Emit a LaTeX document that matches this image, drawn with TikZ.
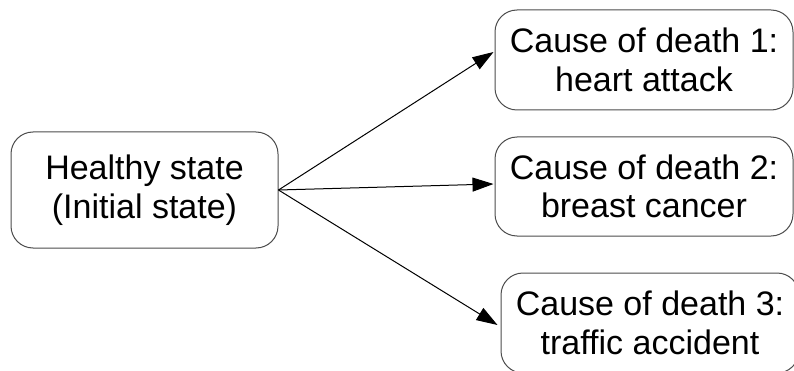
\documentclass[tikz,border=0pt]{standalone}
\usepackage{fontspec}
\setmainfont{Liberation Sans}
\usetikzlibrary{arrows.meta,calc}
\begin{document}
\begin{tikzpicture}[x=1pt,y=1pt,
  box/.style={draw=black!70, line width=1pt, rounded corners=22pt, inner sep=0pt,
    align=center, font=\fontsize{34}{38.5}\selectfont, text=black},
  conn/.style={draw=black, line width=1pt, -{Triangle[length=21pt,width=14pt]}}]
\useasboundingbox (0,0) rectangle (794,370);
\node[box, minimum width=267pt, minimum height=116pt] (h) at (144.5,180) {Healthy state\\(Initial state)};
\node[box, minimum width=298pt, minimum height=100pt] (c1) at (644,310) {Cause of death 1:\\heart attack};
\node[box, minimum width=298pt, minimum height=99pt] (c2) at (644,183.5) {Cause of death 2:\\breast cancer};
\node[box, minimum width=298pt, minimum height=100pt] (c3) at (650,47) {Cause of death 3:\\traffic accident};
\draw[conn] (h.east) -- ($(c1.west)+(-1,8)$);
\draw[conn] (h.east) -- ($(c2.west)+(-1,2.5)$);
\draw[conn] (h.east) -- ($(c3.west)+(-3,-2)$);
\end{tikzpicture}
\end{document}
